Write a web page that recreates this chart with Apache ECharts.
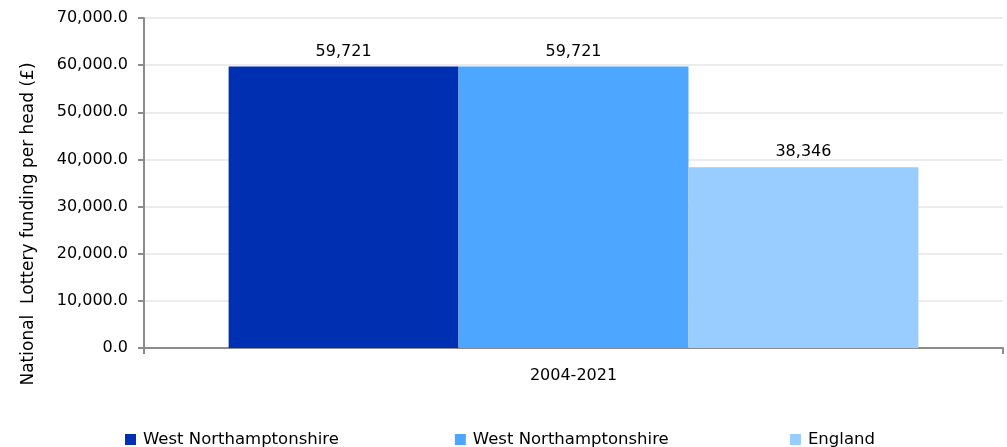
<!DOCTYPE html>
<html><head><meta charset="utf-8">
<script src="https://cdn.jsdelivr.net/npm/echarts@6/dist/echarts.min.js"></script>
<style>html,body{margin:0;padding:0;background:#fff}#c{width:1007px;height:447px}</style>
</head><body><div id="c"></div>
<script>
const categories = ['2004-2021'];
const seriesNames = ['West Northamptonshire', 'West Northamptonshire ', 'England'];
const westNorthants1 = [59721];
const westNorthants2 = [59721];
const england = [38346];
const yTicks = [0, 10000, 20000, 30000, 40000, 50000, 60000, 70000];
const colors = ['#0030B2', '#4DA6FF', '#99CCFF'];

const font = 'DejaVu Sans';
const chart = echarts.init(document.getElementById('c'));
const values = [westNorthants1, westNorthants2, england];
chart.setOption({
  animation: false,
  textStyle: { fontFamily: font },
  grid: { left: 144, right: 4, top: 18, bottom: 99 },
  legend: {
    data: seriesNames,
    left: 120, top: 426,
    itemWidth: 11, itemHeight: 11, itemGap: 116,
    icon: 'rect',
    textStyle: { fontFamily: font, fontSize: 16.5, color: '#000', padding: [0, 0, 0, 2] }
  },
  xAxis: {
    type: 'category', data: categories,
    axisLine: { lineStyle: { color: '#8c8c8c', width: 2 } },
    axisTick: { show: true, length: 6, lineStyle: { color: '#8c8c8c', width: 2 } },
    axisLabel: { fontFamily: font, fontSize: 16, color: '#000', margin: 20 }
  },
  yAxis: {
    type: 'value', min: yTicks[0], max: yTicks[yTicks.length - 1], interval: 10000,
    name: 'National  Lottery funding per head (£)',
    nameLocation: 'middle', nameGap: 107,
    nameTextStyle: { fontFamily: font, fontSize: 17, color: '#000', padding: [0, 82, 0, 0] },
    axisLine: { show: true, lineStyle: { color: '#8c8c8c', width: 2 } },
    axisTick: { show: true, length: 6, lineStyle: { color: '#8c8c8c', width: 2 } },
    splitLine: { lineStyle: { color: '#ececec', width: 2 } },
    axisLabel: {
      fontFamily: font, fontSize: 16, color: '#000', margin: 16,
      formatter: v => v.toLocaleString('en-GB', { minimumFractionDigits: 1, maximumFractionDigits: 1 })
    }
  },
  series: seriesNames.map((n, i) => ({
    name: n, type: 'bar', data: values[i],
    barGap: '0%', barCategoryGap: '19.7%',
    itemStyle: { color: colors[i] },
    label: {
      show: true, position: 'top', distance: 7,
      fontFamily: font, fontSize: 16, color: '#000',
      formatter: p => p.value.toLocaleString('en-GB')
    }
  }))
});
</script></body></html>
